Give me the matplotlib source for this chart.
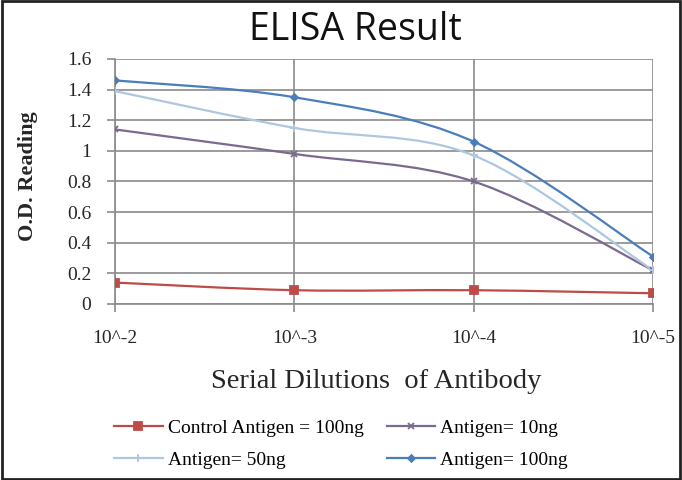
import matplotlib
matplotlib.use("Agg")
import matplotlib.pyplot as plt
from matplotlib.patches import Rectangle, PathPatch
from matplotlib.path import Path
from matplotlib.lines import Line2D

dilutions = ["10^-2", "10^-3", "10^-4", "10^-5"]
control_100 = [0.14, 0.09, 0.09, 0.07]
antigen_10 = [1.14, 0.98, 0.80, 0.22]
antigen_50 = [1.39, 1.15, 0.97, 0.22]
antigen_100 = [1.46, 1.35, 1.06, 0.31]

serif = "Liberation Serif"
ink = "#262626"


def smooth_path(xs, ys):
    # excel-style smoothed line: cubic bezier segments through the points
    pts = list(zip(xs, ys))
    verts = [pts[0]]
    codes = [Path.MOVETO]
    n = len(pts)
    for i in range(n - 1):
        p0 = pts[i - 1] if i > 0 else pts[i]
        p1, p2 = pts[i], pts[i + 1]
        p3 = pts[i + 2] if i + 2 < n else pts[i + 1]
        c1 = (p1[0] + (p2[0] - p0[0]) / 6, p1[1] + (p2[1] - p0[1]) / 6)
        c2 = (p2[0] - (p3[0] - p1[0]) / 6, p2[1] - (p3[1] - p1[1]) / 6)
        verts += [c1, c2, p2]
        codes += [Path.CURVE4] * 3
    return Path(verts, codes)


fig = plt.figure(figsize=(6.82, 4.8), dpi=100)
ax = fig.add_axes([0.1686, 0.3667, 0.7889, 0.5104])

x = list(range(len(dilutions)))
series = [
    (control_100, "#BE4B48", "s", 6, "Control Antigen = 100ng"),
    (antigen_10, "#7A6A90", "x", 5, "Antigen= 10ng"),
    (antigen_50, "#AFC6E0", "+", 6, "Antigen= 50ng"),
    (antigen_100, "#4A7EBB", "D", 3.5, "Antigen= 100ng"),
]
handles = []
for ys, col, mk, ms, lab in series:
    ax.add_patch(PathPatch(smooth_path(x, ys), fill=False, ec=col, lw=1.6, zorder=3))
    ax.plot(x, ys, ls="none", marker=mk, ms=ms, color=col, mew=1.3, zorder=4)
    handles.append(Line2D([], [], color=col, marker=mk, ms=ms, mew=1.3, lw=1.6, label=lab))

ax.set_xlim(0, 3)
ax.set_ylim(0, 1.6)
ax.set_yticks([0, 0.2, 0.4, 0.6, 0.8, 1.0, 1.2, 1.4, 1.6])
ax.set_yticklabels(["0", "0.2", "0.4", "0.6", "0.8", "1", "1.2", "1.4", "1.6"])
ax.set_xticks(x)
ax.set_xticklabels(dilutions)
ax.grid(True, color="#8a8a8a", lw=1.2)
ax.set_axisbelow(True)
for s in ["top", "right"]:
    ax.spines[s].set_visible(False)
ax.spines["left"].set_color("#8a8a8a")
ax.spines["bottom"].set_color("#8a8a8a")
ax.spines["left"].set_linewidth(1.2)
ax.spines["bottom"].set_linewidth(1.2)
ax.tick_params(colors="#8a8a8a", length=6, width=1.2, labelcolor=ink,
               labelsize=14)
ax.tick_params(axis="x", pad=13)
ax.tick_params(axis="y", pad=11)
for lbl in ax.get_xticklabels() + ax.get_yticklabels():
    lbl.set_family(serif)

fig.text(28 / 682, 1 - 176 / 480, "O.D. Reading", rotation=90, ha="center",
         va="center", family=serif, fontweight="bold", fontsize=16, color=ink)
fig.text(376 / 682, 1 - 388 / 480, "Serial Dilutions  of Antibody", ha="center",
         va="baseline", family=serif, fontsize=20.5, color=ink)
fig.text(355 / 682, 1 - 40 / 480, "ELISA Result", ha="center", va="baseline",
         family="Open Sans", fontsize=27, color="#111111")

order = [0, 2, 1, 3]
fig.legend([handles[i] for i in order], [handles[i].get_label() for i in order],
           loc="center", bbox_to_anchor=(341 / 682, 1 - 444 / 480), ncol=2,
           frameon=False, prop={"family": serif, "size": 14},
           columnspacing=1.2, handlelength=2.5, handletextpad=0.25,
           labelspacing=0.75, borderpad=0, borderaxespad=0)

fig.patches.append(Rectangle((0.003, 0.003), 0.994, 0.994, transform=fig.transFigure,
                             fill=False, ec="#222222", lw=2))

fig.savefig("out.png", dpi=100)
